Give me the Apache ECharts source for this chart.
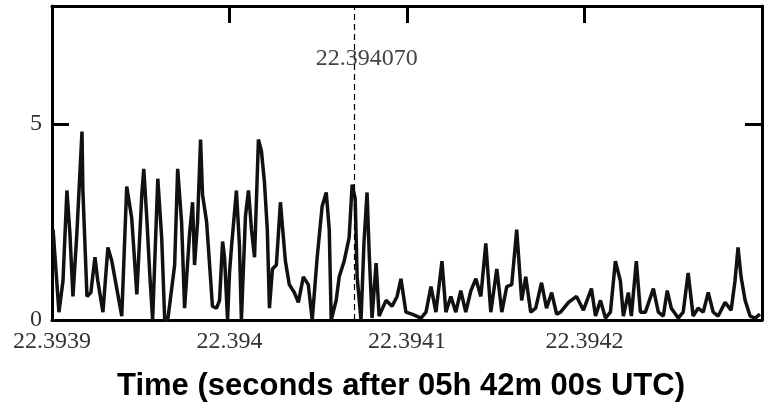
<!DOCTYPE html>
<html>
<head>
<meta charset="utf-8">
<script src="https://cdn.jsdelivr.net/npm/echarts@6/dist/echarts.min.js"></script>
<style>
  html, body {margin: 0; padding: 0; background: #fff;}
  #chart {width: 769px; height: 411px;}
</style>
</head>
<body>
<div id="chart"></div>
<script>
// time origin and axis ticks (microseconds after 22.3939 s)
const t0 = 22.3939;
const xTicks = [0, 100, 200, 300, 400];
const markerTime = 170; // 22.394070

// sample times (µs after t0) and amplitudes
const times = [
  0.6, 3.9, 6.2, 8.4, 10.1, 11.8, 14.0, 16.9, 17.4, 18.5, 19.7, 21.9, 24.2, 25.8, 28.7,
  31.5, 33.7, 36.5, 39.3, 42.1, 44.9, 47.8, 50.6, 51.7, 53.4, 55.1, 56.7, 59.6, 61.8,
  63.5, 65.2, 69.1, 70.8, 73.0, 74.7, 77.5, 79.2, 80.3, 82.0, 83.7, 84.8, 87.1, 88.8,
  90.4, 92.7, 94.4, 96.1, 97.2, 98.9, 100.0, 101.1, 103.9, 105.6, 106.7, 109.0, 110.7,
  112.4, 114.1, 116.3, 118.0, 119.7, 121.3, 122.5, 124.2, 126.4, 128.7, 129.8, 131.5,
  133.7, 136.5, 138.8, 141.6, 144.4, 146.6, 149.4, 152.2, 154.5, 156.2, 157.3, 160.1,
  161.8, 164.6, 167.4, 169.1, 170.8, 171.9, 174.1, 175.8, 177.5, 178.7, 180.3, 182.6,
  184.3, 188.2, 191.6, 194.4, 196.6, 199.4, 202.8, 207.9, 210.7, 213.5, 216.3, 219.7,
  221.9, 224.7, 227.5, 230.3, 233.1, 236.0, 238.8, 241.6, 244.4, 247.2, 250.6, 253.4,
  256.2, 259.0, 261.8, 264.6, 266.9, 269.7, 272.5, 275.8, 278.6, 281.5, 284.3, 286.5,
  291.0, 295.5, 299.4, 303.9, 306.2, 309.0, 311.8, 314.6, 317.4, 320.2, 321.9, 324.7,
  326.4, 329.2, 331.5, 334.3, 338.8, 341.6, 344.4, 346.6, 348.9, 352.8, 355.6, 358.4,
  361.2, 364.0, 366.9, 369.7, 372.5, 375.3, 379.2, 382.6, 384.8, 386.5, 388.2, 390.5,
  393.3, 396.1, 398.9
];
const amplitude = [
  2.3, 0.2, 1.0, 3.3, 2.2, 0.6, 2.2, 4.8, 3.3, 2.0, 0.6, 0.7, 1.6, 1.0, 0.2,
  1.85, 1.5, 0.8, 0.1, 3.4, 2.6, 0.65, 3.2, 3.85, 2.6, 1.15, 0.0, 3.6, 2.1,
  0.0, 0.0, 1.4, 3.85, 2.5, 0.3, 2.2, 3.0, 1.4, 2.5, 4.6, 3.2, 2.5, 1.4,
  0.35, 0.3, 0.5, 2.0, 1.6, 0.0, 1.2, 1.85, 3.3, 1.9, 0.0, 2.65, 3.3,
  2.3, 1.6, 4.6, 4.3, 3.5, 2.3, 0.3, 1.3, 1.4, 3.0, 2.4, 1.5,
  0.9, 0.7, 0.45, 1.1, 0.9, 0.0, 1.6, 2.9, 3.25, 2.3, 0.0, 0.5,
  1.1, 1.5, 2.1, 3.45, 3.1, 1.1, 0.0, 2.0, 3.25, 1.7, 0.05, 1.45,
  0.1, 0.5, 0.35, 0.6, 1.05, 0.2, 0.15, 0.05, 0.2, 0.85, 0.2, 1.5,
  0.2, 0.6, 0.2, 0.75, 0.2, 0.75, 1.05, 0.6, 1.95, 0.2, 1.3, 0.2,
  0.85, 0.9, 2.3, 0.5, 1.1, 0.2, 0.3, 0.95, 0.3, 0.7, 0.15, 0.2,
  0.45, 0.6, 0.25, 0.8, 0.1, 0.5, 0.05, 0.2, 1.5, 1.0, 0.1, 0.7,
  0.1, 1.5, 0.2, 0.2, 0.8, 0.2, 0.1, 0.75, 0.3, 0.05, 0.2, 1.2,
  0.1, 0.3, 0.2, 0.7, 0.2, 0.1, 0.45, 0.25, 1.0, 1.85, 1.1, 0.5,
  0.1, 0.05, 0.15
];

const chart = echarts.init(document.getElementById('chart'));
const serif = 'Liberation Serif';
const frame = {onZero: false, lineStyle: {color: '#000', width: 3}};
const tick = {show: true, inside: true, length: 17, lineStyle: {color: '#000', width: 3}};
const fmtTime = v => String(parseFloat((t0 + v / 1e6).toFixed(4)));

chart.setOption({
  animation: false,
  grid: {left: 52, right: 7, top: 6, bottom: 91},
  xAxis: [
    {
      type: 'value', min: xTicks[0], max: xTicks[xTicks.length - 1], interval: 100,
      position: 'bottom',
      axisLine: frame, axisTick: {show: false}, splitLine: {show: false},
      axisLabel: {
        formatter: fmtTime, showMaxLabel: false,
        color: '#333', fontFamily: serif, fontSize: 24, margin: 10
      },
      name: 'Time (seconds after 05h 42m 00s UTC)',
      nameLocation: 'middle', nameGap: 51,
      nameTextStyle: {
        color: '#000', fontFamily: 'Liberation Sans', fontWeight: 'bold', fontSize: 31,
        padding: [0, 12, 0, 0]
      }
    },
    {
      type: 'value', min: xTicks[0], max: xTicks[xTicks.length - 1], interval: 100,
      position: 'top',
      axisLine: frame, axisTick: tick, axisLabel: {show: false}, splitLine: {show: false}
    }
  ],
  yAxis: [
    {
      type: 'value', min: 0, max: 8, interval: 5, position: 'left',
      axisLine: frame, axisTick: tick, splitLine: {show: false},
      axisLabel: {
        showMaxLabel: false, color: '#333', fontFamily: serif, fontSize: 24, margin: 10,
        padding: [5, 0, 0, 0]
      }
    },
    {
      type: 'value', min: 0, max: 8, interval: 5, position: 'right',
      axisLine: frame, axisTick: tick, axisLabel: {show: false}, splitLine: {show: false}
    }
  ],
  series: [{
    type: 'line',
    showSymbol: false,
    lineStyle: {color: '#111', width: 3.5},
    data: times.map((t, i) => [t, amplitude[i]]),
    markLine: {
      silent: true, symbol: 'none',
      lineStyle: {color: '#000', width: 1.2, type: [6, 4]},
      label: {show: false},
      data: [{xAxis: markerTime}]
    },
    markPoint: {
      silent: true, symbol: 'circle', symbolSize: 0,
      label: {
        show: true, position: 'inside', offset: [13, 0],
        formatter: (t0 + markerTime / 1e6).toFixed(6),
        color: '#444', fontFamily: serif, fontSize: 24
      },
      data: [{coord: [markerTime, 6.65]}]
    }
  }]
});
</script>
</body>
</html>
